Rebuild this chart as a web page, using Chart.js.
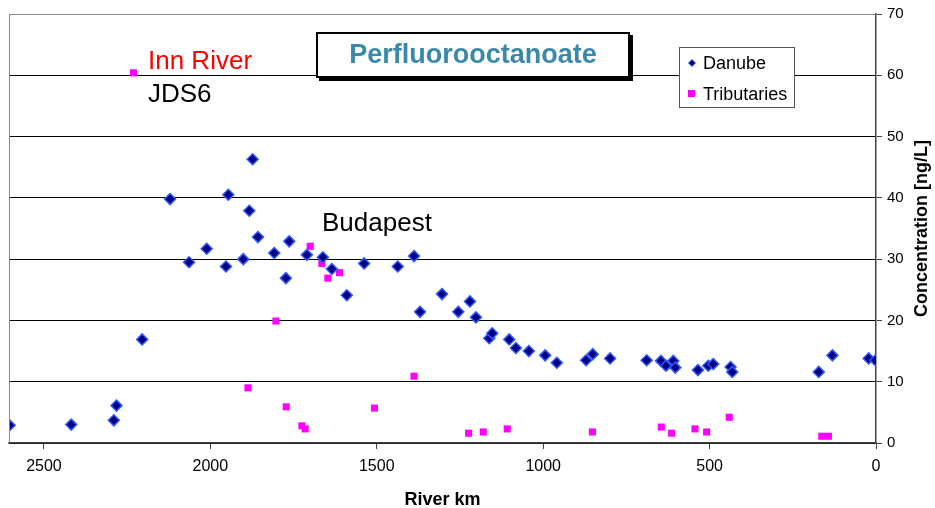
<!DOCTYPE html>
<html>
<head>
<meta charset="utf-8">
<title>Perfluorooctanoate</title>
<script src="https://cdn.jsdelivr.net/npm/chart.js@4.4.0/dist/chart.umd.min.js"></script>
<style>
  body { margin: 0; background: #fff; }
</style>
</head>
<body>
<canvas id="pfoaChart" width="935" height="508"></canvas>
<script>
// river km / concentration (ng/L) along the Danube main stream
const danubeKm = [2603, 2418, 2290, 2282, 2205, 2121, 2064, 2011, 1953, 1946, 1901, 1883, 1873, 1857,
  1808, 1773, 1763, 1710, 1662, 1635, 1590, 1538, 1437, 1388, 1370, 1304, 1255, 1220, 1202, 1162,
  1153, 1102, 1082, 1043, 994, 959, 871, 851, 799, 689, 646, 631, 609, 603, 535, 504, 489, 437,
  432, 172, 131, 22, 2];
const danubeConc = [2.9, 3.0, 3.7, 6.1, 16.9, 39.8, 29.5, 31.7, 28.8, 40.5, 30.0, 37.9, 46.3, 33.6,
  31.0, 26.9, 32.9, 30.7, 30.3, 28.4, 24.1, 29.3, 28.8, 30.5, 21.4, 24.3, 21.4, 23.1, 20.5, 17.1,
  17.9, 16.9, 15.5, 15.0, 14.3, 13.1, 13.5, 14.5, 13.8, 13.5, 13.4, 12.6, 13.4, 12.3, 11.9, 12.6,
  12.9, 12.4, 11.6, 11.6, 14.3, 13.8, 13.5];

// tributary samples (at confluence km)
const tribKm = [2231, 1887, 1803, 1772, 1725, 1715, 1700, 1665, 1647, 1612, 1507, 1388, 1224, 1180,
  1108, 852, 645, 614, 544, 509, 441, 163, 143];
const tribConc = [60.4, 9.0, 19.9, 5.9, 2.8, 2.3, 32.1, 29.3, 26.9, 27.8, 5.7, 10.9, 1.6, 1.8,
  2.3, 1.8, 2.6, 1.6, 2.3, 1.8, 4.2, 1.1, 1.1];

const seriesNames = ['Danube', 'Tributaries'];
const kmTicks = [2500, 2000, 1500, 1000, 500, 0];
const concTicks = [0, 10, 20, 30, 40, 50, 60, 70];

const chartTitle = 'Perfluorooctanoate';
const xTitle = 'River km';
const yTitle = 'Concentration [ng/L]';

const FONT = '"Liberation Sans", Arial, sans-serif';
const danubeFill = '#000080';
const danubeEdge = '#3058ff';
const tribFill = '#ff00ff';

function toPoints(xs, ys) {
  return xs.map((x, i) => ({ x: x, y: ys[i] }));
}

// titles, boxed heading, legend and place labels
const decorations = {
  id: 'decorations',
  afterDraw(chart) {
    const ctx = chart.ctx;
    const a = chart.chartArea;
    ctx.save();

    // plot frame: top and left in grey
    ctx.strokeStyle = '#888';
    ctx.lineWidth = 1;
    ctx.beginPath();
    ctx.moveTo(a.left + 0.5, a.bottom);
    ctx.lineTo(a.left + 0.5, a.top + 0.5);
    ctx.lineTo(a.right, a.top + 0.5);
    ctx.stroke();

    // heading box with a small drop shadow
    ctx.fillStyle = '#000';
    ctx.fillRect(319, 35, 314, 46);
    ctx.fillStyle = '#fff';
    ctx.fillRect(316, 32, 314, 46);
    ctx.strokeStyle = '#000';
    ctx.lineWidth = 2;
    ctx.strokeRect(317, 33, 312, 44);
    ctx.fillStyle = '#3a89ab';
    ctx.font = 'bold 27px ' + FONT;
    ctx.textAlign = 'center';
    ctx.textBaseline = 'alphabetic';
    ctx.fillText(chartTitle, 473, 63);

    // legend
    ctx.fillStyle = '#fff';
    ctx.fillRect(679, 47, 115, 60);
    ctx.strokeStyle = '#555';
    ctx.lineWidth = 1;
    ctx.strokeRect(679.5, 47.5, 115, 60);
    ctx.fillStyle = danubeFill;
    ctx.strokeStyle = danubeEdge;
    ctx.beginPath();
    ctx.moveTo(692, 59.5);
    ctx.lineTo(695.5, 63);
    ctx.lineTo(692, 66.5);
    ctx.lineTo(688.5, 63);
    ctx.closePath();
    ctx.fill();
    ctx.stroke();
    ctx.fillStyle = tribFill;
    ctx.fillRect(688, 90, 7, 7);
    ctx.fillStyle = '#000';
    ctx.font = '18px ' + FONT;
    ctx.textAlign = 'left';
    ctx.fillText(seriesNames[0], 703, 69);
    ctx.fillText(seriesNames[1], 703, 100);

    // place labels
    ctx.font = '26px ' + FONT;
    ctx.fillStyle = '#ff0000';
    ctx.fillText('Inn River', 148, 69);
    ctx.fillStyle = '#000';
    ctx.fillText('JDS6', 148, 102);
    ctx.fillText('Budapest', 322, 231);

    // axis titles
    ctx.font = 'bold 18px ' + FONT;
    ctx.textAlign = 'center';
    ctx.fillText(xTitle, (a.left + a.right) / 2, 505);
    ctx.translate(927, (a.top + a.bottom) / 2);
    ctx.rotate(-Math.PI / 2);
    ctx.font = 'bold 18px ' + FONT;
    ctx.fillText(yTitle, 0, 0);
    ctx.restore();
  }
};

new Chart(document.getElementById('pfoaChart'), {
  type: 'scatter',
  data: {
    datasets: [
      {
        label: seriesNames[0],
        data: toPoints(danubeKm, danubeConc),
        pointStyle: 'rectRot',
        pointRadius: 5.5,
        backgroundColor: danubeFill,
        borderColor: danubeEdge,
        borderWidth: 1.5
      },
      {
        label: seriesNames[1],
        data: toPoints(tribKm, tribConc),
        pointStyle: 'rect',
        pointRadius: 5,
        backgroundColor: tribFill,
        borderColor: tribFill,
        borderWidth: 0
      }
    ]
  },
  options: {
    responsive: false,
    animation: false,
    events: [],
    layout: { padding: { left: 9, top: 13, right: 0, bottom: 0 } },
    plugins: {
      legend: { display: false },
      title: { display: false },
      tooltip: { enabled: false }
    },
    scales: {
      x: {
        type: 'linear',
        reverse: true,
        min: 0,
        max: 2605,
        afterBuildTicks: (scale) => { scale.ticks = kmTicks.map(v => ({ value: v })); },
        afterFit: (scale) => { scale.height = 65; },
        border: { color: '#444', width: 1.5 },
        grid: { drawOnChartArea: false, tickLength: 6, tickColor: '#444' },
        ticks: {
          color: '#000',
          padding: 8,
          maxRotation: 0,
          font: { family: FONT, size: 16 },
          callback: (v) => String(v)
        }
      },
      y: {
        position: 'right',
        min: 0,
        max: 70,
        afterBuildTicks: (scale) => { scale.ticks = concTicks.map(v => ({ value: v })); },
        afterFit: (scale) => { scale.width = 59; },
        border: { color: '#444', width: 1.5 },
        grid: {
          color: (c) => (c.tick && c.tick.value === 70 ? '#888' : '#000'),
          lineWidth: 1,
          tickLength: 6,
          tickColor: '#444'
        },
        ticks: { color: '#000', padding: 5, font: { family: FONT, size: 15 } }
      }
    }
  },
  plugins: [decorations]
});
</script>
</body>
</html>
